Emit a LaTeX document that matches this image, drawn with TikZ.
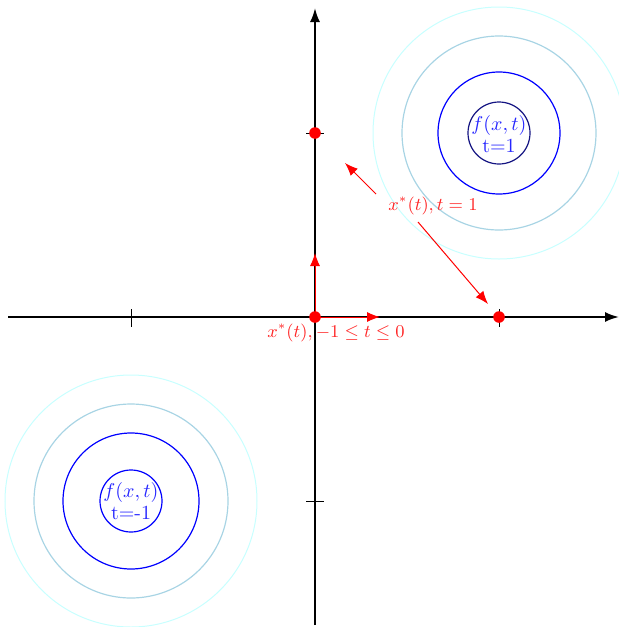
\documentclass[tikz,border=0pt]{standalone}
\usetikzlibrary{arrows.meta}
\definecolor{lcyan}{RGB}{200,255,255}
\definecolor{lblue}{RGB}{168,212,228}
\definecolor{navyc}{RGB}{20,20,130}
\begin{document}
\begin{tikzpicture}[x=0.5pt,y=-0.5pt,
  axis/.style={line width=1pt,-{Latex[length=7pt,width=5pt]}},
  tick/.style={line width=0.5pt},
  redarrow/.style={red,line width=0.5pt,-{Latex[length=6.5pt,width=5pt]}},
  dot/.style={circle,fill=red,inner sep=0pt,minimum size=5.8pt},
  lab/.style={text=red!85,font=\small},
  flabel/.style={text=blue!85,align=center,inner sep=0pt,font=\normalsize}]
\useasboundingbox (0,0) rectangle (619,627);
% contours top right
\draw[lcyan,line width=0.5pt] (499,133) circle (126);
\draw[lblue,line width=0.6pt] (499,133) circle (97);
\draw[blue,line width=0.6pt] (499,133) circle (61);
\draw[navyc,line width=0.6pt] (499,133) circle (31);
\node[flabel] (f1) at (499,134) {$f(x,t)$\\[-1pt]t=1};
% contours bottom left
\draw[lcyan,line width=0.5pt] (131,501) circle (126);
\draw[lblue,line width=0.6pt] (131,501) circle (97);
\draw[blue,line width=0.6pt] (131,501) circle (68);
\draw[blue,line width=0.6pt] (131,501) circle (31);
\node[flabel] (f2) at (131,501) {$f(x,t)$\\[-1pt]t=-1};
% axes
\coordinate (xl) at (8,317);
\coordinate (xr) at (619,317);
\coordinate (yb) at (315,625);
\coordinate (yt) at (315,8);
\draw[axis] (xl) -- (xr);
\draw[axis] (yb) -- (yt);
% ticks
\draw[tick] (131,309) -- (131,327);
\draw[tick] (499,309) -- (499,327);
\draw[tick] (306,133) -- (324,133);
\draw[tick] (306,501) -- (324,501);
% points
\node[dot] (o) at (315,317) {};
\node[dot] (p1) at (315,133) {};
\node[dot] (p2) at (499,317) {};
\coordinate (up) at (315,253);
\coordinate (rt) at (380,317);
\draw[redarrow] (o.center) -- (up);
\draw[redarrow] (o.center) -- (rt);
\node[lab] (l0) at (336,333) {$x^*(t), -1 \leq t \leq 0$};
\node[lab] (l1) at (433,206) {$x^*(t), t=1$};
\coordinate (a1) at (345,163);
\coordinate (a2) at (488,304);
\draw[redarrow] (376,194) -- (a1);
\draw[redarrow] (418,222) -- (a2);
\end{tikzpicture}
\end{document}
